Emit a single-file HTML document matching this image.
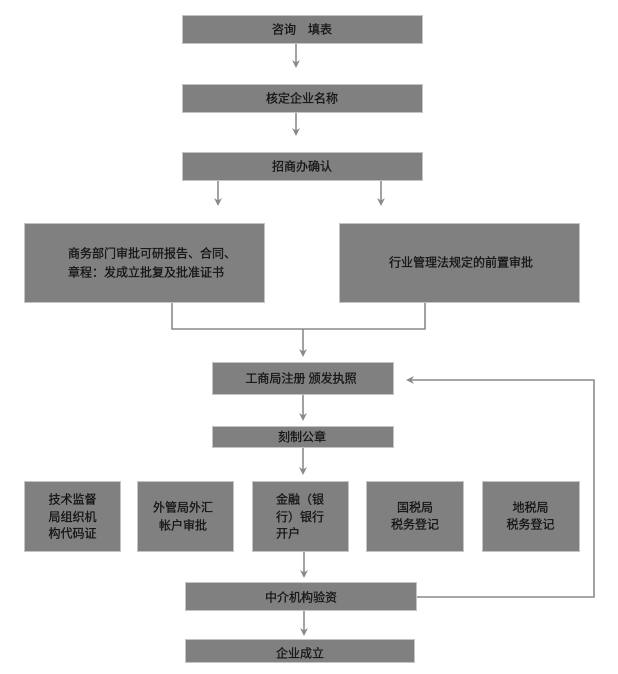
<!DOCTYPE html>
<html>
<head>
<meta charset="utf-8">
<style>
  html,body{margin:0;padding:0;background:#fff;}
  svg{display:block;}
  text{font-family:"Liberation Sans","Noto Sans CJK SC",sans-serif;font-size:12px;fill:#151515;stroke:#151515;stroke-width:0.3;}
</style>
</head>
<body>
<svg width="618" height="674" viewBox="0 0 618 674" xmlns="http://www.w3.org/2000/svg">
  <defs>
    <style>
      .box{fill:#808080;stroke:#c4c4c4;stroke-width:1;}
      .ln{stroke:#8a8a8a;stroke-width:1.6;fill:none;}
      .ah{fill:#8a8a8a;}
    </style>
  </defs>

  <!-- boxes -->
  <rect class="box" x="182.5" y="15.5" width="240" height="28"/>
  <rect class="box" x="182.5" y="84.5" width="240" height="28"/>
  <rect class="box" x="182.5" y="152.5" width="240" height="28"/>
  <rect class="box" x="24.5" y="223.5" width="240" height="79"/>
  <rect class="box" x="339.5" y="223.5" width="240" height="79"/>
  <rect class="box" x="212.5" y="362.5" width="181" height="32"/>
  <rect class="box" x="212.5" y="426.5" width="181" height="21"/>
  <rect class="box" x="24.5" y="481.5" width="96" height="70"/>
  <rect class="box" x="137.5" y="481.5" width="96" height="70"/>
  <rect class="box" x="252.5" y="481.5" width="96" height="70"/>
  <rect class="box" x="366.5" y="481.5" width="97" height="70"/>
  <rect class="box" x="482.5" y="481.5" width="97" height="70"/>
  <rect class="box" x="185.5" y="582.5" width="231" height="28"/>
  <rect class="box" x="185.5" y="639.5" width="229" height="23"/>

  <!-- connectors -->
  <line class="ln" x1="296" y1="44" x2="296" y2="64"/>
  <path class="ah" d="M296,68 L292,60 L296,62.5 L300,60 Z"/>
  <line class="ln" x1="296" y1="113" x2="296" y2="132"/>
  <path class="ah" d="M296,136 L292,128 L296,130.5 L300,128 Z"/>
  <line class="ln" x1="218" y1="181" x2="218" y2="202"/>
  <path class="ah" d="M218,206 L214,198 L218,200.5 L222,198 Z"/>
  <line class="ln" x1="381" y1="181" x2="381" y2="202"/>
  <path class="ah" d="M381,206 L377,198 L381,200.5 L385,198 Z"/>

  <polyline class="ln" points="172,303 172,329 425,329 425,303"/>
  <line class="ln" x1="303" y1="329" x2="303" y2="353"/>
  <path class="ah" d="M303,357 L299,349 L303,351.5 L307,349 Z"/>

  <line class="ln" x1="303" y1="395" x2="303" y2="417"/>
  <path class="ah" d="M303,421 L299,413 L303,415.5 L307,413 Z"/>
  <line class="ln" x1="303" y1="448" x2="303" y2="471"/>
  <path class="ah" d="M303,475 L299,467 L303,469.5 L307,467 Z"/>

  <line class="ln" x1="304" y1="552" x2="304" y2="574"/>
  <path class="ah" d="M304,578 L300,570 L304,572.5 L308,570 Z"/>
  <line class="ln" x1="304" y1="611" x2="304" y2="632"/>
  <path class="ah" d="M304,636 L300,628 L304,630.5 L308,628 Z"/>

  <polyline class="ln" points="417,597 594,597 594,380 410,380"/>
  <path class="ah" d="M406,380 L414,376 L411.5,380 L414,384 Z"/>

  <!-- labels -->
  <text x="302" y="33.5" text-anchor="middle">咨询　填表</text>
  <text x="302" y="102.5" text-anchor="middle">核定企业名称</text>
  <text x="302" y="170.5" text-anchor="middle">招商办确认</text>
  <text x="68" y="257.5">商务部门审批可研报告、合同、</text>
  <text x="68" y="276.5">章程：发成立批复及批准证书</text>
  <text x="461" y="266.5" text-anchor="middle">行业管理法规定的前置审批</text>
  <text x="301" y="382.5" text-anchor="middle">工商局注册 颁发执照</text>
  <text x="302" y="441" text-anchor="middle">刻制公章</text>

  <text x="72.5" y="503.5" text-anchor="middle">技术监督</text>
  <text x="72.5" y="521" text-anchor="middle">局组织机</text>
  <text x="72.5" y="537.5" text-anchor="middle">构代码证</text>

  <text x="183" y="511.5" text-anchor="middle">外管局外汇</text>
  <text x="183" y="529.5" text-anchor="middle">帐户审批</text>

  <text x="276" y="503.5">金融（银</text>
  <text x="276" y="521">行）银行</text>
  <text x="276" y="537.5">开户</text>

  <text x="415" y="511.5" text-anchor="middle">国税局</text>
  <text x="415" y="528.5" text-anchor="middle">税务登记</text>

  <text x="530.5" y="511.5" text-anchor="middle">地税局</text>
  <text x="530.5" y="528.5" text-anchor="middle">税务登记</text>

  <text x="301" y="601.5" text-anchor="middle">中介机构验资</text>
  <text x="300" y="657.5" text-anchor="middle">企业成立</text>
</svg>
</body>
</html>
